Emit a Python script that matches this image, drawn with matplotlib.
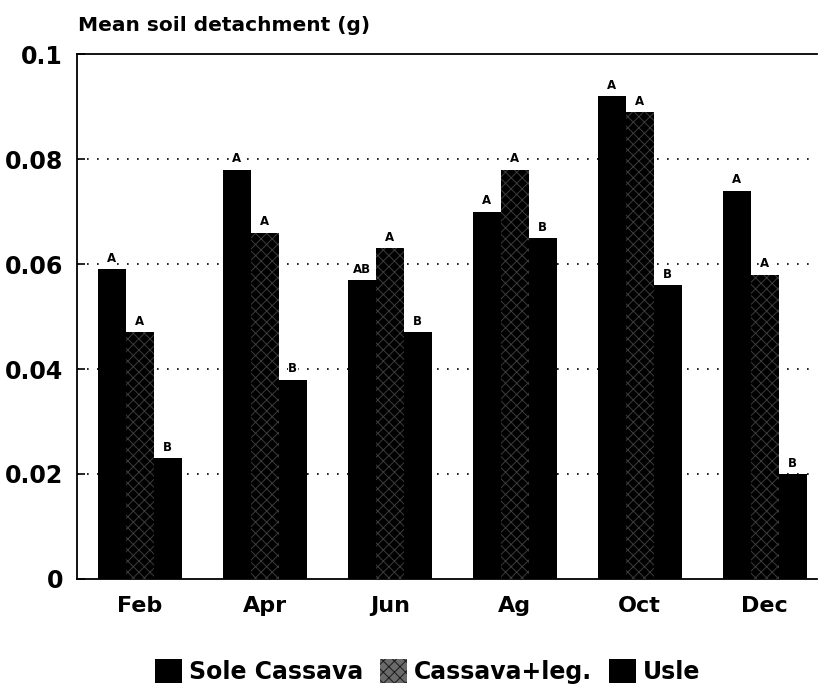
import numpy as np
import matplotlib
matplotlib.use("Agg")
import matplotlib.pyplot as plt

months = ["Feb", "Apr", "Jun", "Ag", "Oct", "Dec"]
series_names = ["Sole Cassava", "Cassava+leg.", "Usle"]
sole = [0.059, 0.078, 0.057, 0.070, 0.092, 0.074]
legume = [0.047, 0.066, 0.063, 0.078, 0.089, 0.058]
usle = [0.023, 0.038, 0.047, 0.065, 0.056, 0.020]
letters_sole = ["A", "A", "AB", "A", "A", "A"]
letters_legume = ["A", "A", "A", "A", "A", "A"]
letters_usle = ["B", "B", "B", "B", "B", "B"]
yticks = [0, 0.02, 0.04, 0.06, 0.08, 0.1]
ytick_labels = ["0", "0.02", "0.04", "0.06", "0.08", "0.1"]

plt.rcParams["hatch.linewidth"] = 0.7

fig = plt.figure(figsize=(8.18, 6.95), dpi=100)
ax = fig.add_axes([0.094, 0.167, 0.905, 0.755])

x = np.arange(len(months))
width = 0.224
values = [sole, legume, usle]
letters = [letters_sole, letters_legume, letters_usle]
styles = [
    dict(color="black", linewidth=0),
    dict(facecolor="black", edgecolor="#3c3c3c", hatch="xxx", linewidth=0),
    dict(color="black", linewidth=0),
]

for k, (vals, labs, st) in enumerate(zip(values, letters, styles)):
    pos = x + (k - 1) * width
    ax.bar(pos, vals, width, label=series_names[k], zorder=3, **st)
    for px, v, lab in zip(pos, vals, labs):
        ax.text(px, v + 0.0008, lab, ha="center", va="bottom",
                fontsize=8.5, fontweight="bold", zorder=4,
                bbox=dict(facecolor="white", edgecolor="none", pad=0.3))

ax.set_xlim(-0.504, 5.42)
ax.set_ylim(0, 0.1)
ax.set_yticks(yticks)
ax.set_yticklabels(ytick_labels, fontsize=17, fontweight="bold")
ax.set_xticks(x)
ax.set_xticklabels(months, fontsize=16, fontweight="bold")
ax.tick_params(axis="x", length=0, pad=12)
ax.tick_params(axis="y", direction="in", length=6, width=1.2, pad=10)

for yv in yticks[1:-1]:
    ax.axhline(yv, color="black", linestyle=(0, (1, 5)), linewidth=1.2, zorder=1)

ax.spines["right"].set_visible(False)
for s in ["left", "top", "bottom"]:
    ax.spines[s].set_linewidth(1.3)

fig.text(0.095, 0.964, "Mean soil detachment (g)", fontsize=14.5,
         fontweight="bold", ha="left", va="center")

leg = fig.legend(loc="center", bbox_to_anchor=(0.523, 0.034), ncol=3, frameon=False,
                 prop=dict(size=17, weight="bold"), handlelength=1.15, handleheight=1.2,
                 handletextpad=0.3, columnspacing=0.7)
leg.legend_handles[1].set_facecolor("#6a6a6a")
leg.legend_handles[1].set_edgecolor("#1a1a1a")

fig.savefig("out.png", dpi=100)
